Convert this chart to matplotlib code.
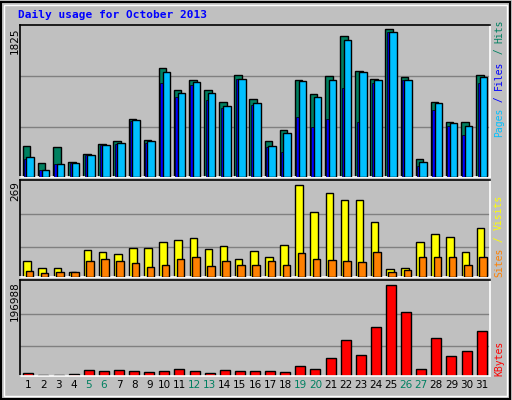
import matplotlib
matplotlib.use("Agg")
import matplotlib.pyplot as plt
from matplotlib.patches import Rectangle
import numpy as np

days = list(range(1, 32))
weekend = [5, 6, 12, 13, 19, 20, 26, 27]
hits = [380,178,367,190,289,413,438,714,462,1342,1073,1193,1073,921,1255,958,438,574,1193,1020,1243,1738,1309,1206,1825,1230,227,921,673,673,1255]
files = [244,91,165,178,277,400,425,698,450,1292,1032,1168,1032,871,1206,908,388,537,1181,983,1193,1689,1292,1193,1788,1193,190,908,661,623,1230]
pages = [227,83,165,178,277,400,413,685,425,1156,983,1131,945,846,1206,884,376,314,735,611,710,1094,673,1156,1788,1193,140,822,623,524,1156]
visits = [48,27,27,16,80,74,68,85,85,103,109,115,83,91,53,77,59,94,269,190,246,225,225,161,24,27,103,126,117,74,144]
sites = [18,13,16,16,48,53,48,42,30,36,53,59,33,48,36,36,48,36,71,53,50,48,45,74,16,21,59,59,59,36,59]
kbytes = [7190,2876,2876,5033,13661,11504,13661,11504,9347,11504,15818,11504,7190,13661,11504,11504,11504,9347,22289,15818,39545,78371,46016,106412,196988,138767,15818,82685,43859,54644,97784]

W, H = 512, 400
BG = "#C0C0C0"
fig = plt.figure(figsize=(W/100, H/100), dpi=100, facecolor=BG)

def ax_at(x0, y0, x1, y1):
    ax = fig.add_axes([x0/W, 1-y1/H, (x1-x0)/W, (y1-y0)/H])
    ax.set_facecolor(BG)
    for s in ["top", "left"]:
        ax.spines[s].set_color("black")
    for s in ["bottom", "right"]:
        ax.spines[s].set_color("white")
    for s in ax.spines.values():
        s.set_linewidth(1.2)
    ax.set_xlim(0.45, 31.55)
    ax.set_xticks([]); ax.set_yticks([])
    return ax

def grid(ax, vals):
    for v in vals:
        ax.axhline(v, color="#808080", lw=1, zorder=0)

x = np.array(days, dtype=float)
ek = dict(edgecolor="black", linewidth=1)

ax1 = ax_at(20, 25, 490, 177)
ax1.set_ylim(0, 1825*152/148)
grid(ax1, [611, 1243])
ax1.bar(x-0.12, hits, width=0.5, color="#008060", zorder=2, **ek)
ax1.bar(x-0.02, pages, width=0.5, color="#0000FF", zorder=3, edgecolor="black", linewidth=0.5)
ax1.bar(x+0.13, files, width=0.5, color="#00C0FF", zorder=4, **ek)

ax2 = ax_at(20, 180, 490, 277)
ax2.set_ylim(0, 269*97/92)
grid(ax2, [88, 184])
ax2.bar(x-0.08, visits, width=0.5, color="#FFFF00", zorder=2, **ek)
ax2.bar(x+0.08, sites, width=0.5, color="#FF8000", zorder=3, **ek)

ax3 = ax_at(20, 280, 490, 376)
ax3.set_ylim(0, 196988*96/91)
grid(ax3, [64000, 134440])
ax3.bar(x, kbytes, width=0.66, color="#FF0000", zorder=2, **ek)

for d in days:
    ax3.text(d, -0.04, str(d), transform=ax3.get_xaxis_transform(), ha="center", va="top",
             fontsize=7.5, family="DejaVu Sans", color="#008060" if d in weekend else "black")

fig.text(18/W, 1-15/H, "Daily usage for October 2013", color="#0000FF", fontsize=8,
         family="DejaVu Sans Mono", weight="bold", va="center", ha="left")

def ylab(txt, ytop):
    fig.text(15/W, 1-ytop/H, txt, rotation=90, ha="center", va="top", fontsize=7.5, family="DejaVu Sans")
ylab("1825", 27)
ylab("269", 181)
ylab("196988", 281)

def rlab(parts, ybottom):
    y = ybottom
    for t, c in parts:
        fig.text(499/W, 1-y/H, t, rotation=90, ha="center", va="bottom", fontsize=7,
                 family="DejaVu Sans Mono", color=c)
        y -= len(t)*5.9
rlab([("Pages", "#00C0FF"), (" / ", "#0000FF"), ("Files", "#0000FF"), (" / ", "#008060"), ("Hits", "#008060")], 137)
rlab([("Sites", "#FF8000"), (" / ", "#FFFF00"), ("Visits", "#FFFF00")], 277)
rlab([("KBytes", "#FF0000")], 376)

fig.patches.append(Rectangle((1/W, 1/H), 1-3/W, 1-3/H, transform=fig.transFigure, fill=False,
                             edgecolor="black", linewidth=1.5))
fig.patches.append(Rectangle((4/W, 4/H), 1-9/W, 1-9/H, transform=fig.transFigure, fill=False,
                             edgecolor="white", linewidth=1))

fig.savefig("out.png", dpi=100, facecolor=BG)
